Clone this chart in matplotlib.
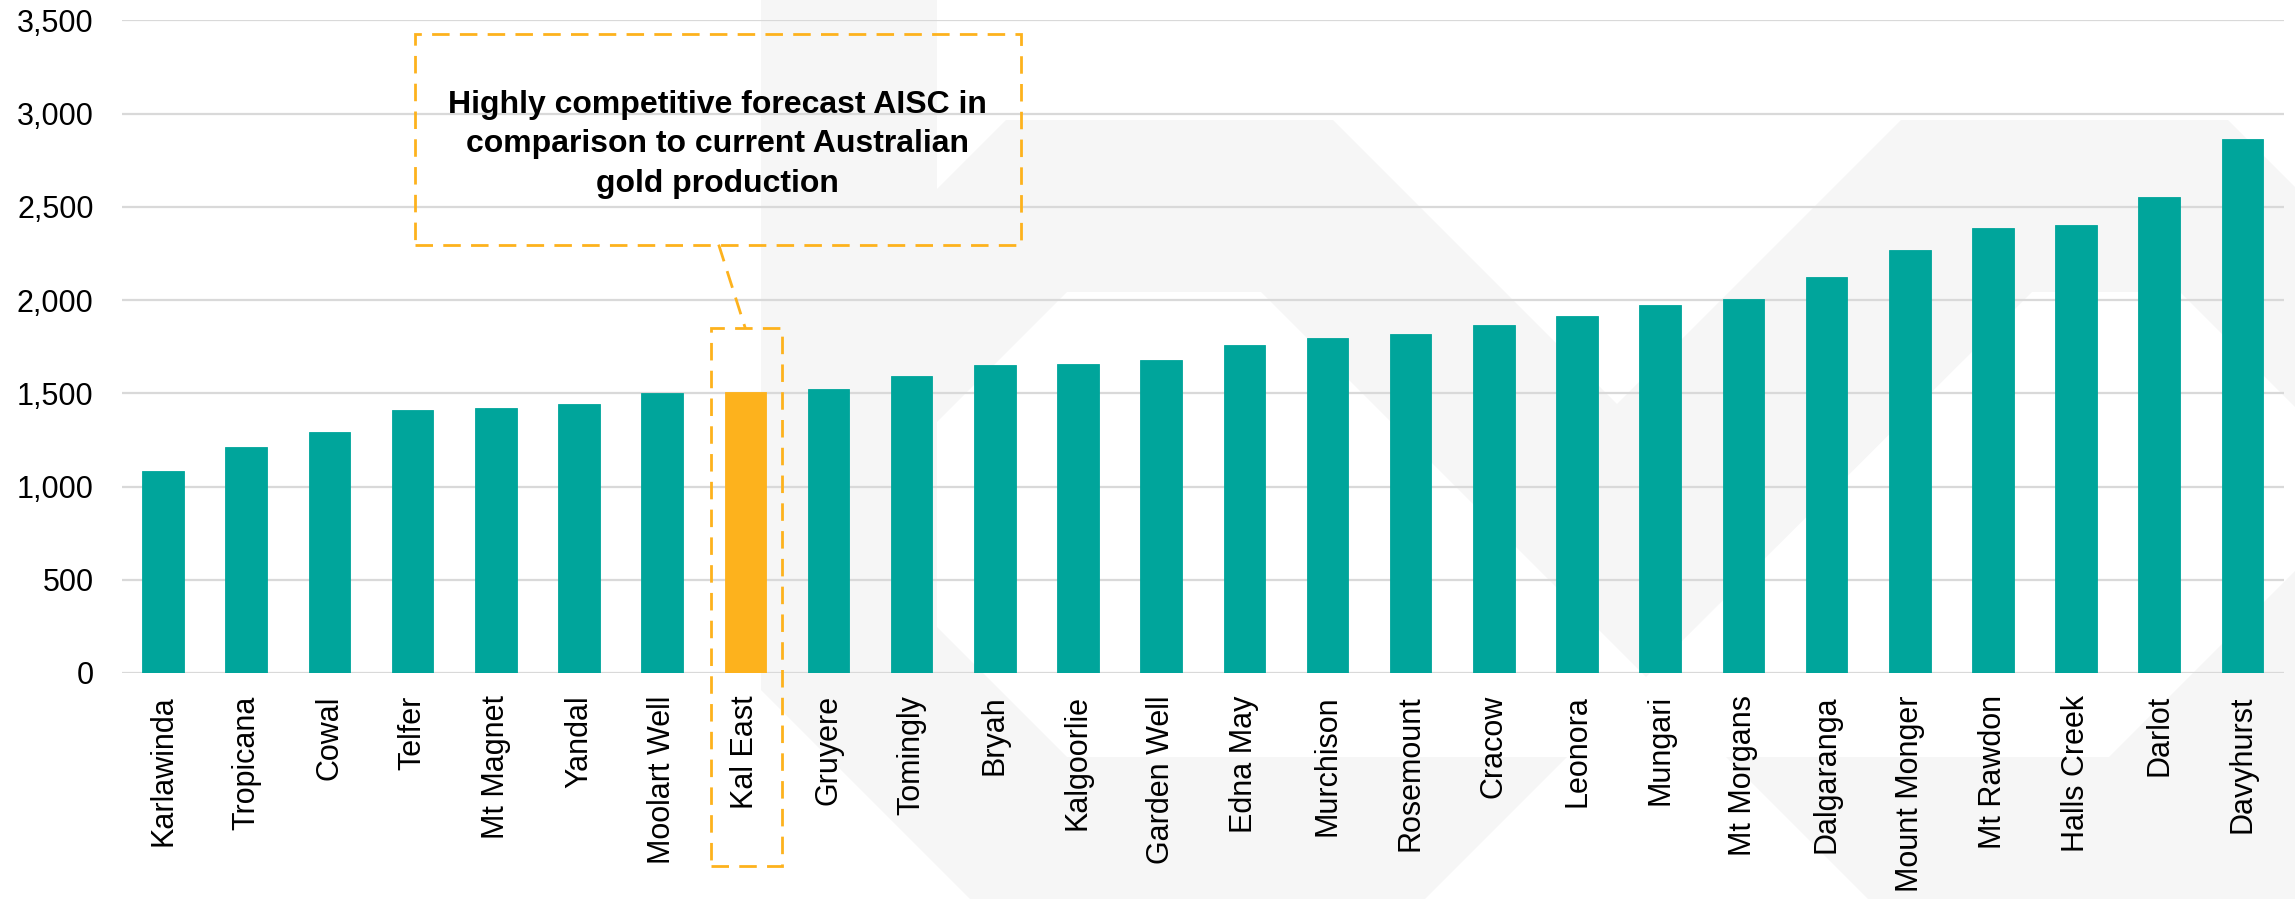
import matplotlib
matplotlib.use("Agg")
import matplotlib.pyplot as plt
from matplotlib.patches import Polygon, Rectangle
from matplotlib.ticker import FuncFormatter, MultipleLocator

plt.rcParams["font.family"] = ["Liberation Sans", "DejaVu Sans"]

# ---- data ----
mines = ["Karlawinda", "Tropicana", "Cowal", "Telfer", "Mt Magnet", "Yandal",
         "Moolart Well", "Kal East", "Gruyere", "Tomingly", "Bryah", "Kalgoorlie",
         "Garden Well", "Edna May", "Murchison", "Rosemount", "Cracow", "Leonora",
         "Mungari", "Mt Morgans", "Dalgaranga", "Mount Monger", "Mt Rawdon",
         "Halls Creek", "Darlot", "Davyhurst"]
aisc = [1085, 1213, 1293, 1410, 1423, 1441, 1499, 1505, 1523, 1595, 1649, 1658,
        1677, 1759, 1794, 1819, 1864, 1916, 1971, 2005, 2125, 2270, 2384,
        2405, 2550, 2866]
highlight = "Kal East"
y_ticks_max = 3500
note = "Highly competitive forecast AISC in\ncomparison to current Australian\ngold production"

TEAL = "#00A59B"
ORANGE = "#FDB21D"
WM = "#f6f6f6"

W, H = 2295, 899
fig = plt.figure(figsize=(W / 100, H / 100), dpi=100)
fig.patch.set_facecolor("white")

# ---- faint watermark (background logo) in pixel coords ----
bg = fig.add_axes([0, 0, 1, 1], zorder=0)
bg.set_xlim(0, W)
bg.set_ylim(H, 0)
bg.axis("off")
outer = [(761, -10), (937, -10), (937, 189), (1006, 120), (1333, 120), (1617, 404),
         (1901, 120), (2228, 120), (2400, 292), (2400, 950), (1021, 950), (761, 690)]
inner = [(937, 422), (1067, 292), (1261, 292), (1646, 677), (2032, 292), (2180, 292),
         (2295, 407), (2295, 571), (2109, 757), (1726, 757), (1919, 950), (1374, 950),
         (1567, 757), (1067, 757), (937, 627)]
bg.add_patch(Polygon(outer, closed=True, fc=WM, ec="none"))
bg.add_patch(Polygon(inner, closed=True, fc="white", ec="none"))

# ---- main chart ----
ax = fig.add_axes([121.5 / W, 1 - 673 / H, (2284 - 121.5) / W, (673 - 20.3) / H], zorder=1)
ax.patch.set_alpha(0)
xs = list(range(len(mines)))
colors = [ORANGE if m == highlight else TEAL for m in mines]
ax.bar(xs, aisc, width=0.5, color=colors, edgecolor=colors, linewidth=0.6, zorder=3)
ax.set_xlim(-0.5, len(mines) - 0.5)
ax.set_ylim(0, y_ticks_max)
ax.yaxis.set_major_locator(MultipleLocator(500))
ax.yaxis.set_major_formatter(FuncFormatter(lambda v, p: f"{v:,.0f}"))
ax.set_axisbelow(True)
ax.grid(axis="y", color="#d9d9d9", linewidth=1.6)
ax.grid(axis="x", visible=False)
for s in ax.spines.values():
    s.set_visible(False)
ax.tick_params(axis="y", length=0, pad=20, labelsize=22, labelcolor="black")
ax.tick_params(axis="x", length=0, pad=16, labelsize=22, labelcolor="black")
ax.set_xticks(xs)
ax.set_xticklabels(mines, rotation=90)

# ---- annotation ----
dash = (0, (6.3, 3.7))
ax.add_patch(Rectangle((3.025, 2297), 10.315 - 3.025, 3428 - 2297, fill=False,
                       ec=ORANGE, lw=2, ls=dash, clip_on=False, zorder=4))
ax.text(6.66, 2835, note, ha="center", va="center", multialignment="center",
        fontsize=23, fontweight="bold", color="black", zorder=5, linespacing=1.42)
ax.plot([6.68, 7.0], [2297, 1849], color=ORANGE, lw=2, ls=dash, clip_on=False, zorder=4)
ax.add_patch(Rectangle((6.588, -1034), 0.854, 1849 + 1034, fill=False,
                       ec=ORANGE, lw=2, ls=dash, clip_on=False, zorder=4))

fig.savefig("out.png", dpi=100, facecolor="white")
